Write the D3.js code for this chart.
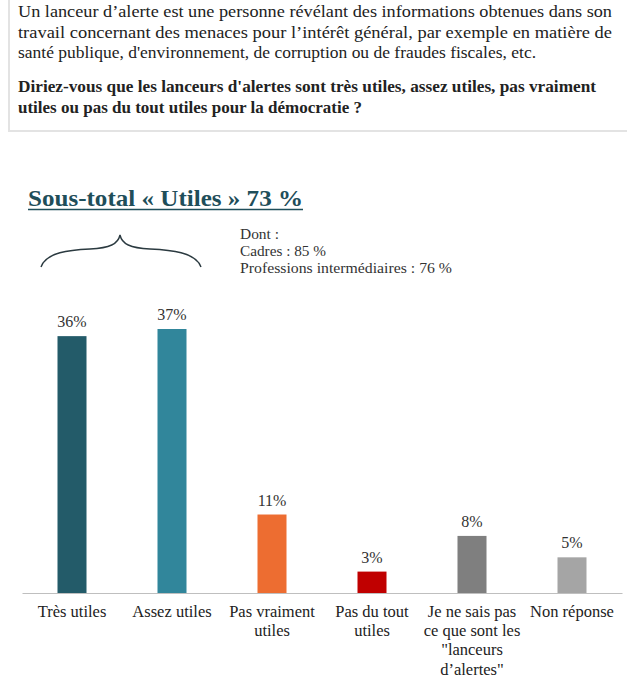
<!DOCTYPE html>
<html><head><meta charset="utf-8">
<script src="https://cdn.jsdelivr.net/npm/d3@7"></script>
<style>body{margin:0;background:#fff}</style>
</head><body>
<script>
const categories = [
  ["Très utiles"],
  ["Assez utiles"],
  ["Pas vraiment", "utiles"],
  ["Pas du tout", "utiles"],
  ["Je ne sais pas", "ce que sont les", "\"lanceurs", "d’alertes\""],
  ["Non réponse"]
];
const values = [36, 37, 11, 3, 8, 5];
const colors = ["#235b69", "#31869b", "#ed6d31", "#c00000", "#7f7f7f", "#a5a5a5"];
const introLines = [
  "Un lanceur d’alerte est une personne révélant des informations obtenues dans son",
  "travail concernant des menaces pour l’intérêt général, par exemple en matière de",
  "santé publique, d'environnement, de corruption ou de fraudes fiscales, etc."
];
const questionLines = [
  "Diriez-vous que les lanceurs d'alertes sont très utiles, assez utiles, pas vraiment",
  "utiles ou pas du tout utiles pour la démocratie ?"
];
const subtotalTitle = "Sous-total « Utiles » 73 %";
const dontLines = ["Dont :", "Cadres : 85 %", "Professions intermédiaires : 76 %"];

const W = 627, H = 685;
const FONT = "'Liberation Serif', serif";
const svg = d3.select("body").append("svg").attr("width", W).attr("height", H)
  .style("font-family", FONT);

// header box
svg.append("path").attr("d", `M9,0 V131 H627`).attr("fill", "none")
  .attr("stroke", "#e3e3e3").attr("stroke-width", 2);

function fitText(sel, target) {
  sel.each(function() {
    const len = this.getComputedTextLength();
    if (target && len > 0) d3.select(this).attr("textLength", target).attr("lengthAdjust", "spacingAndGlyphs");
  });
}

const introTargets = [594, 594, 518];
introLines.forEach((t, i) => {
  svg.append("text").attr("x", 18).attr("y", 17 + i * 20.5)
    .attr("font-size", 16).attr("fill", "#222").text(t)
    .call(fitText, introTargets[i]);
});
const qTargets = [578, 344];
questionLines.forEach((t, i) => {
  svg.append("text").attr("x", 18).attr("y", 92 + i * 20.5)
    .attr("font-size", 16).attr("font-weight", "bold").attr("fill", "#222").text(t)
    .call(fitText, qTargets[i]);
});

// subtotal title
svg.append("text").attr("x", 28).attr("y", 206)
  .attr("font-size", 23).attr("font-weight", "bold").attr("fill", "#1f4e5a")
  .text(subtotalTitle).call(fitText, 275);
svg.append("line").attr("x1", 28).attr("x2", 303).attr("y1", 209.5).attr("y2", 209.5)
  .attr("stroke", "#1f4e5a").attr("stroke-width", 1.5);

// brace
svg.append("path")
  .attr("d", "M41,267 C46,252 70,250 90,249 C110,248 118,244 120,235 C122,244 130,248 150,249 C170,250 196,252 201,267")
  .attr("fill", "none").attr("stroke", "#2b3a40").attr("stroke-width", 1.4);

const dontTargets = [39, 86, 212];
dontLines.forEach((t, i) => {
  svg.append("text").attr("x", 240).attr("y", 239 + i * 17)
    .attr("font-size", 15.5).attr("fill", "#333").text(t)
    .call(fitText, dontTargets[i]);
});

// chart
const x = d3.scaleBand().domain(d3.range(values.length)).range([22, 622]).paddingInner(0.71).paddingOuter(0.355);
const y = d3.scaleLinear().domain([0, 37]).range([593, 329]);

const g = svg.append("g");
g.selectAll("rect.bar").data(values).join("rect").attr("class", "bar")
  .attr("x", (d, i) => x(i)).attr("width", x.bandwidth())
  .attr("y", d => y(d)).attr("height", d => y(0) - y(d))
  .attr("fill", (d, i) => colors[i]);

g.selectAll("text.val").data(values).join("text").attr("class", "val")
  .attr("x", (d, i) => x(i) + x.bandwidth() / 2).attr("y", d => y(d) - 9)
  .attr("text-anchor", "middle").attr("font-size", 16).attr("fill", "#333")
  .text(d => d + "%");

const axis = d3.axisBottom(x).tickSize(0).tickFormat("");
const ax = svg.append("g").attr("transform", `translate(0,${y(0)})`).call(axis);
ax.select(".domain").attr("stroke", "#bfbfbf").attr("stroke-width", 1.2);

categories.forEach((lines, i) => {
  const t = svg.append("text").attr("x", x(i) + x.bandwidth() / 2).attr("y", 617)
    .attr("text-anchor", "middle").attr("font-size", 16.5).attr("fill", "#222");
  lines.forEach((l, j) => t.append("tspan").attr("x", x(i) + x.bandwidth() / 2)
    .attr("dy", j === 0 ? 0 : 19.2).text(l));
});
</script>
</body></html>
